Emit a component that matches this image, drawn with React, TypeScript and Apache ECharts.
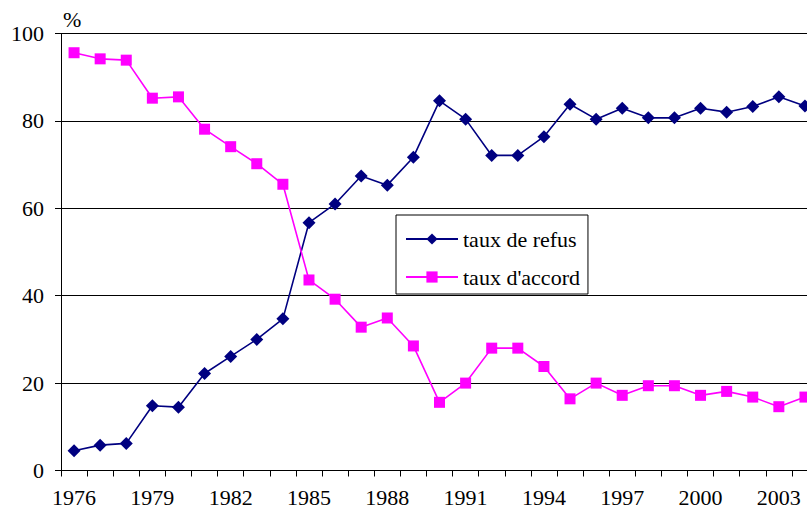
import React, { useEffect, useRef } from "react";
import * as echarts from "echarts";

const years = [
  "1976","1977","1978","1979","1980","1981","1982","1983","1984","1985",
  "1986","1987","1988","1989","1990","1991","1992","1993","1994","1995",
  "1996","1997","1998","1999","2000","2001","2002","2003","2004",
];
const tauxRefus = [
  4.5, 5.8, 6.2, 14.8, 14.5, 22.2, 26.1, 30.0, 34.7, 56.7,
  61.0, 67.4, 65.3, 71.7, 84.6, 80.4, 72.1, 72.1, 76.4, 83.8,
  80.4, 82.9, 80.7, 80.7, 82.9, 82.0, 83.3, 85.5, 83.4,
];
const tauxAccord = [
  95.6, 94.2, 93.9, 85.2, 85.5, 78.1, 74.1, 70.2, 65.5, 43.6,
  39.2, 32.8, 34.9, 28.5, 15.6, 20.0, 28.0, 28.0, 23.8, 16.4,
  20.0, 17.2, 19.4, 19.4, 17.2, 18.1, 16.8, 14.6, 16.8,
];
const seriesNames = ["taux de refus", "taux d'accord"];
const yTicks = { min: 0, max: 100, interval: 20 };

const FONT = "Liberation Serif, DejaVu Serif, serif";

export default function App() {
  const ref = useRef<HTMLDivElement>(null);
  useEffect(() => {
    if (!ref.current) return;
    const chart = echarts.init(ref.current, undefined, { renderer: "svg" });
    chart.setOption({
      animation: false,
      backgroundColor: "#fff",
      textStyle: { fontFamily: FONT },
      grid: { left: 61, right: 1, top: 33.5, bottom: 38.5 },
      graphic: [
        {
          type: "text",
          left: 63,
          top: 8,
          style: { text: "%", fontSize: 22, fontFamily: FONT, fill: "#000" },
        },
      ],
      legend: {
        orient: "vertical",
        left: 396,
        top: 215,
        padding: [13, 8, 6, 9],
        itemWidth: 52,
        itemHeight: 14,
        itemGap: 16,
        backgroundColor: "#fff",
        borderColor: "#000",
        borderWidth: 1,
        borderRadius: 0,
        textStyle: { fontSize: 22, fontFamily: FONT, color: "#000" },
        data: seriesNames,
      },
      xAxis: {
        type: "category",
        data: years,
        boundaryGap: true,
        axisLine: { lineStyle: { color: "#000", width: 1 } },
        axisTick: { show: true, interval: 0, length: 6, lineStyle: { color: "#000" } },
        axisLabel: {
          interval: 2,
          fontSize: 22,
          fontFamily: FONT,
          color: "#000",
          margin: 16,
        },
        splitLine: { show: false },
      },
      yAxis: {
        type: "value",
        min: yTicks.min,
        max: yTicks.max,
        interval: yTicks.interval,
        axisLine: { show: true, lineStyle: { color: "#000", width: 1 } },
        axisTick: { show: true, length: 6, lineStyle: { color: "#000" } },
        axisLabel: { fontSize: 22, fontFamily: FONT, color: "#000", margin: 17 },
        splitLine: { show: true, lineStyle: { color: "#000", width: 1 } },
      },
      series: [
        {
          name: seriesNames[0],
          type: "line",
          data: tauxRefus,
          symbol: "diamond",
          symbolSize: 13,
          color: "#000080",
          lineStyle: { color: "#000080", width: 1.6 },
          itemStyle: { color: "#000080" },
        },
        {
          name: seriesNames[1],
          type: "line",
          data: tauxAccord,
          symbol: "rect",
          symbolSize: 11,
          color: "#FF00FF",
          lineStyle: { color: "#FF00FF", width: 1.6 },
          itemStyle: { color: "#FF00FF" },
        },
      ],
    });
    return () => chart.dispose();
  }, []);
  return (
    <div
      style={{
        position: "absolute",
        left: 0,
        top: 0,
        width: 807,
        height: 509,
        overflow: "hidden",
      }}
    >
      <div ref={ref} style={{ width: 819, height: 509 }} />
    </div>
  );
}
